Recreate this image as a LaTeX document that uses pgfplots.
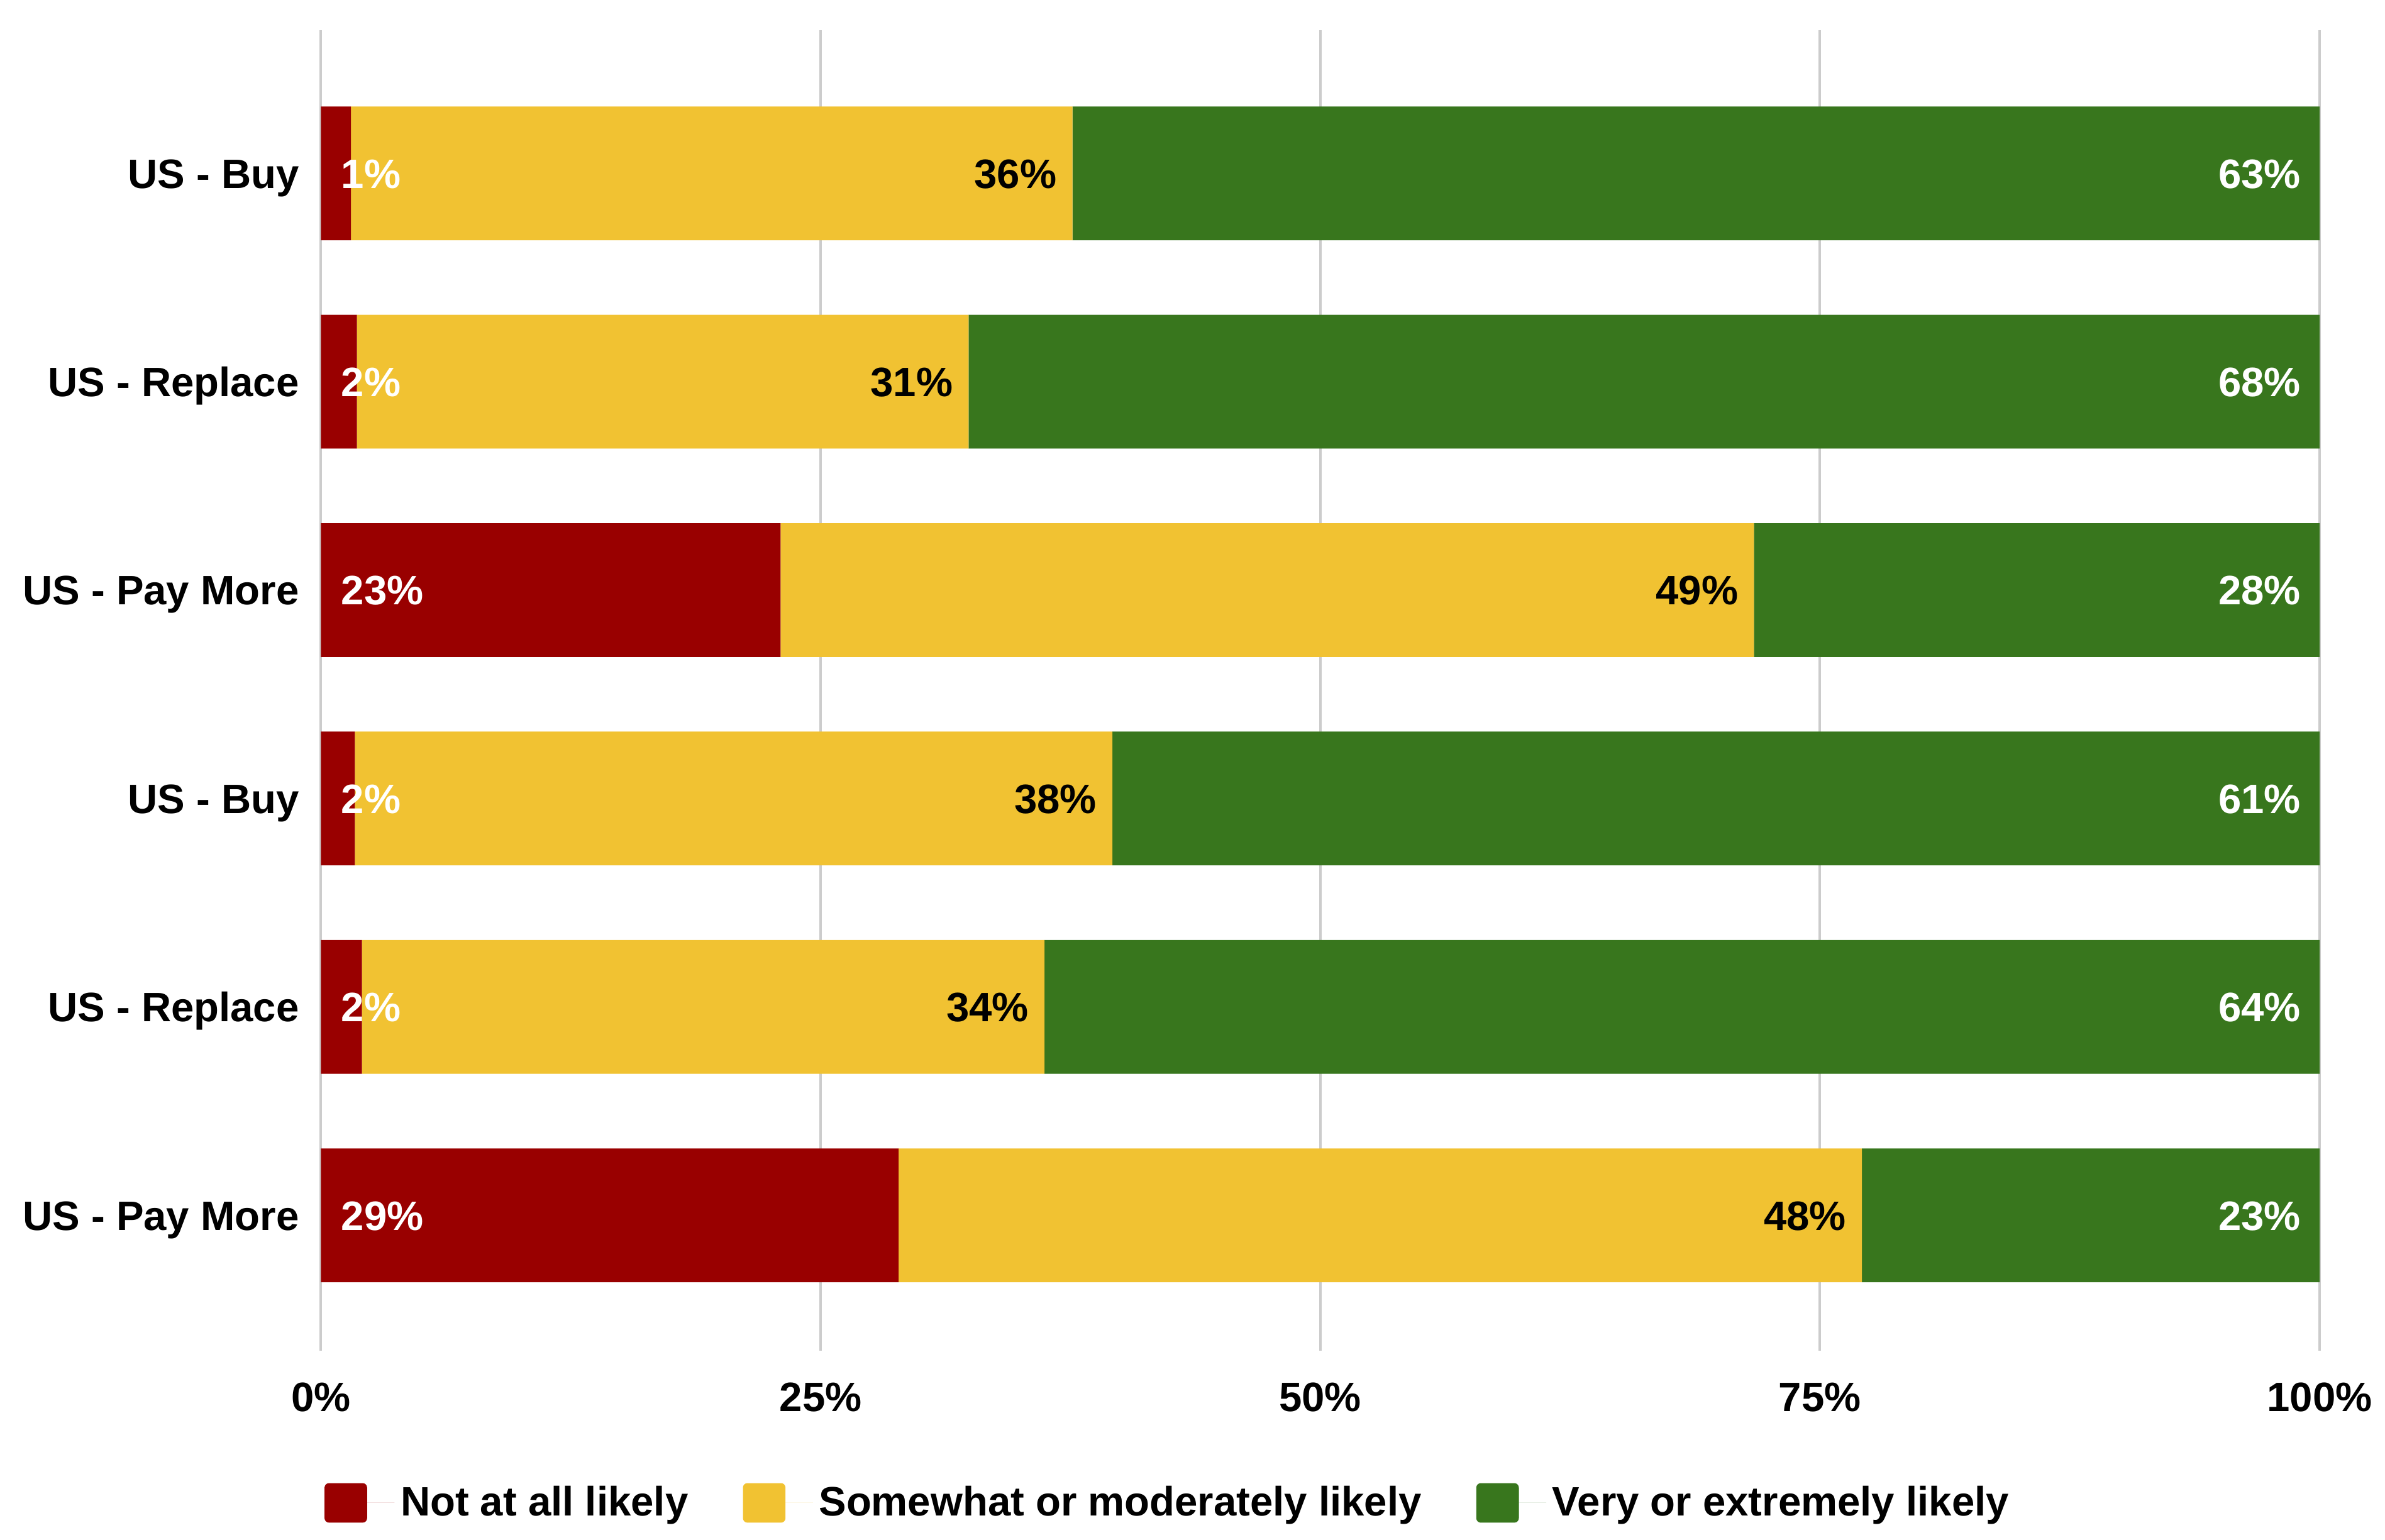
\documentclass[border=0pt]{standalone}
\usepackage{fontspec}
\setmainfont{Liberation Sans}
\usepackage{pgfplots}
\pgfplotsset{compat=1.18}
\usepackage{pgfplotstable}

\definecolor{cred}{HTML}{990000}
\definecolor{cyel}{HTML}{F1C232}
\definecolor{cgrn}{HTML}{38761D}
\definecolor{cgrid}{HTML}{CCCCCC}

\pgfplotstableread{
y red yel grn lr ly lg
5 1.5 36.1 62.4 1 36 63
4 1.8 30.6 67.6 2 31 68
3 23.0 48.7 28.3 23 49 28
2 1.7 37.9 60.4 2 38 61
1 2.05 34.15 63.8 2 34 64
0 28.9 48.2 22.9 29 48 23
}\data

\begin{document}
\begin{tikzpicture}
\begin{axis}[
  scale only axis,
  width=657pt, height=434pt,
  xbar stacked,
  bar width=0.642,
  xmin=0, xmax=100,
  ymin=-0.650, ymax=5.686,
  xtick={0,25,50,75,100},
  xticklabels={0\%,25\%,50\%,75\%,100\%},
  ytick={0,1,2,3,4,5},
  yticklabels={US - Pay More,US - Replace,US - Buy,US - Pay More,US - Replace,US - Buy},
  major tick length=0pt,
  axis line style={draw=none},
  xmajorgrids,
  major grid style={cgrid, line width=0.8pt},
  extra x ticks={0},
  extra x tick labels={},
  extra x tick style={grid style={draw=black!75, line width=0.8pt}},
  every tick label/.append style={font=\fontsize{13.5}{16}\selectfont\bfseries},
  xticklabel style={anchor=center, inner sep=0pt, yshift=-15pt, text height=9.67pt, text depth=0pt},
  yticklabel style={anchor=east, inner sep=0pt, xshift=-7pt, text height=9.67pt, text depth=0pt},
  legend columns=3,
  legend style={at={(rel axis cs:0.0015,-0.1152)}, anchor=west, draw=none, fill=none,
    inner sep=0pt, font=\fontsize{13.5}{16}\selectfont\bfseries,
    /tikz/every even column/.append style={column sep=16pt}},
  legend image code/.code={\fill[#1,draw=none,rounded corners=1.5pt] (0pt,-6.5pt) rectangle (14pt,6.5pt);
     \path (0pt,0pt) -- (23pt,0pt);},
  nodes near coords style={font=\fontsize{13.5}{16}\selectfont\bfseries, inner sep=0pt, text height=9.67pt, text depth=0pt},
  clip=false,
]
\addplot[fill=cred, draw=none,
  point meta=explicit symbolic,
  visualization depends on={\thisrow{red} \as \rv},
  nodes near coords={\pgfplotspointmeta\%},
  every node near coord/.append style={text=white, anchor=west, xshift={6.5pt-\rv*3.285pt}}
] table[x=red, y=y, meta=lr] {\data};
\addlegendentry{Not at all likely}
\addplot[fill=cyel, draw=none,
  point meta=explicit symbolic,
  visualization depends on={\thisrow{yel} \as \yv},
  nodes near coords={\pgfplotspointmeta\%},
  every node near coord/.append style={text=black, anchor=east, xshift={\yv*3.285pt-5pt}}
] table[x=yel, y=y, meta=ly] {\data};
\addlegendentry{Somewhat or moderately likely}
\addplot[fill=cgrn, draw=none,
  point meta=explicit symbolic,
  visualization depends on={\thisrow{grn} \as \gv},
  nodes near coords={\pgfplotspointmeta\%},
  every node near coord/.append style={text=white, anchor=east, xshift={\gv*3.285pt-6pt}}
] table[x=grn, y=y, meta=lg] {\data};
\addlegendentry{Very or extremely likely}
\coordinate (sw) at (rel axis cs:0,0);
\end{axis}
\pgfresetboundingbox
\path (sw) ++(-105.5pt,-62pt) rectangle ++(784pt,506pt);
\end{tikzpicture}
\end{document}
